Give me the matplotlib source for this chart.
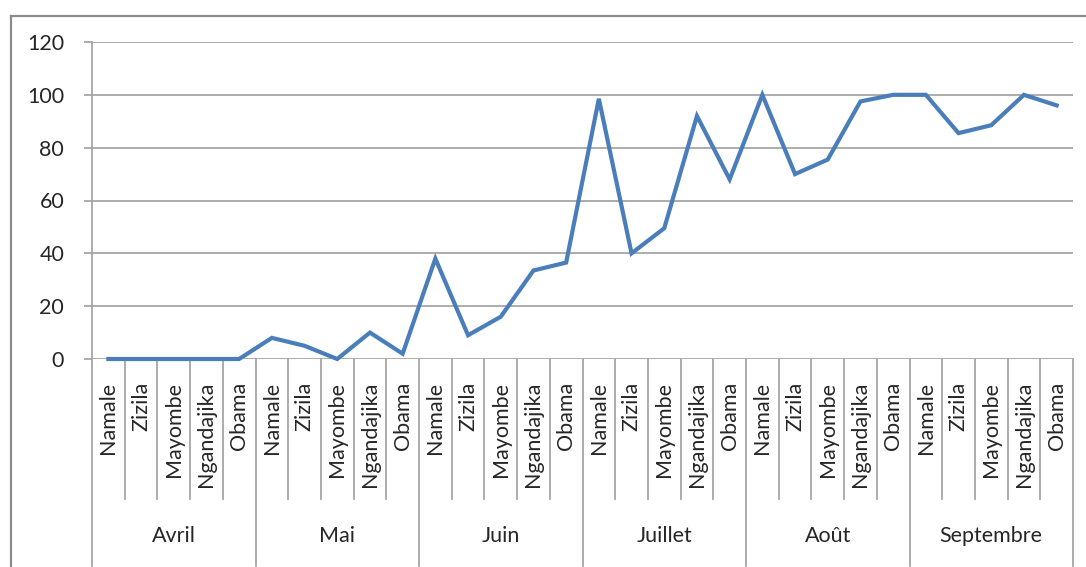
import matplotlib
matplotlib.use("Agg")
import matplotlib.pyplot as plt
from matplotlib.lines import Line2D
from matplotlib.transforms import blended_transform_factory

months = ["Avril", "Mai", "Juin", "Juillet", "Août", "Septembre"]
sites = ["Namale", "Zizila", "Mayombe", "Ngandajika", "Obama"]
values = [
    0, 0, 0, 0, 0,
    8, 5, 0, 10, 2,
    38, 9, 16, 33.5, 36.5,
    98.5, 40, 49.5, 92, 68,
    100, 70, 75.5, 97.5, 100,
    100, 85.5, 88.5, 100, 96,
]
yticks = [0, 20, 40, 60, 80, 100, 120]

W, H = 1086, 567
fig = plt.figure(figsize=(W / 100, H / 100), dpi=100)
plt.rcParams['font.family'] = ['Lato', 'DejaVu Sans']

grid_c = "#a6a6a6"
text_c = "#262626"
fs = 15.5

# outer frame (top and left edges visible)
fig.add_artist(Line2D([11 / W, 1.0], [1 - 16 / H, 1 - 16 / H], color="#8c8c8c", lw=1.6,
                      transform=fig.transFigure))
fig.add_artist(Line2D([11 / W, 11 / W], [1 - 16 / H, 0], color="#8c8c8c", lw=1.6,
                      transform=fig.transFigure))

x0, x1 = 92, 1073
y_top, y_bot = 42, 359
ax = fig.add_axes([x0 / W, 1 - y_bot / H, (x1 - x0) / W, (y_bot - y_top) / H])

n = len(values)
xs = list(range(n))
ax.plot(xs, values, color="#4a7ebb", lw=3.0, solid_joinstyle="miter", zorder=3, clip_on=False)

ax.set_xlim(-0.5, n - 0.5)
ax.set_ylim(0, 120)
ax.set_yticks(yticks)
ax.set_yticklabels([str(v) for v in yticks], fontsize=fs, color=text_c)
for v in yticks:
    ax.axhline(v, color=grid_c, lw=1.3, zorder=1)
ax.tick_params(axis="y", length=6, width=1.3, color=grid_c, pad=14)
ax.set_xticks([])
for s in ["top", "right", "bottom"]:
    ax.spines[s].set_visible(False)
ax.spines["left"].set_color(grid_c)
ax.spines["left"].set_linewidth(1.3)

# category axis with hierarchical labels
trans = blended_transform_factory(ax.transData, ax.transAxes)
ph = y_bot - y_top
inner_y = -(499 - y_bot) / ph
outer_y = -(566 - y_bot) / ph
for b in range(n + 1):
    xb = b - 0.5
    yb = outer_y if b % len(sites) == 0 else inner_y
    ax.add_line(Line2D([xb, xb], [0, yb], color=grid_c, lw=1.3, transform=trans, clip_on=False))

lab_y = -(382 - y_bot) / ph
for i in range(n):
    ax.text(i, lab_y, sites[i % len(sites)], rotation=90, ha="center", va="top",
            fontsize=fs, color=text_c, transform=trans, rotation_mode="default")

mon_y = -(536 - y_bot) / ph
for m, name in enumerate(months):
    xc = m * len(sites) + (len(sites) - 1) / 2
    ax.text(xc, mon_y, name, ha="center", va="center", fontsize=fs, color=text_c, transform=trans)

fig.savefig("out.png", dpi=100)
